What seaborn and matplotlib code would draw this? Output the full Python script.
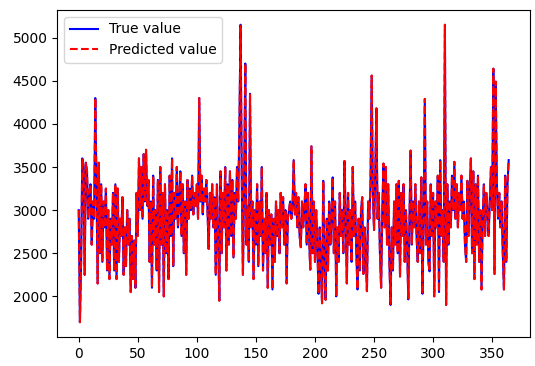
import numpy as np
import matplotlib
matplotlib.use("Agg")
import matplotlib.pyplot as plt
import seaborn as sns

# values (daily series, 365 points)
true_value = [
    3000, 1700, 2400, 3600, 3500, 2250, 3550, 3450, 2900, 3200,
    3300, 2600, 3100, 2900, 4300, 3300, 2150, 3550, 2500, 3300,
    2400, 3100, 2800, 3250, 2300, 3000, 2200, 2900, 2600, 3200,
    2300, 3300, 2200, 3250, 2400, 2900, 2700, 3150, 2250, 2800,
    2350, 3000, 2600, 2900, 2050, 2700, 2200, 2650, 2100, 3200,
    2700, 3600, 3000, 3500, 2900, 3650, 3100, 3700, 3050, 3350,
    2400, 3100, 2100, 3400, 2600, 3000, 2300, 3350, 2050, 3500,
    2600, 3200, 2000, 3300, 2500, 3000, 2200, 3400, 2700, 3600,
    2350, 3200, 2900, 3500, 2800, 3100, 3450, 2700, 3300, 2500,
    3100, 2250, 3350, 2900, 3250, 3000, 3400, 2950, 3200, 3050,
    3300, 2900, 4300, 3100, 3400, 2950, 3250, 3100, 3350, 3000,
    2550, 3200, 2900, 3300, 2800, 3150, 2250, 3300, 2700, 1950,
    3450, 2500, 3200, 2800, 3500, 2300, 3300, 2600, 3450, 2700,
    3350, 2450, 3200, 2900, 3500, 3100, 3950, 5150, 3400, 2250,
    3300, 4700, 2600, 3050, 2400, 4350, 2800, 3100, 2200, 3000,
    2600, 3300, 2350, 3100, 2700, 3500, 2300, 2900, 2500, 3200,
    2100, 3000, 2600, 2950, 2080, 2900, 2400, 3100, 2700, 3000,
    2500, 3200, 2800, 3150, 2600, 3000, 2150, 2900, 3000, 3100,
    2900, 3050, 3580, 2950, 3200, 2800, 3150, 2700, 2570, 3100,
    2800, 3000, 3300, 2600, 3200, 2700, 2310, 3740, 2500, 3100,
    2400, 3000, 2600, 2030, 2800, 2300, 1920, 3340, 2400, 1960,
    2900, 2300, 3100, 2600, 2900, 3380, 2500, 3100, 2000, 2800,
    2400, 3200, 2700, 3000, 2500, 3570, 2900, 2150, 3200, 2600,
    3000, 2400, 3500, 2700, 3100, 2500, 2080, 2900, 2300, 3000,
    3150, 2260, 2800, 2500, 2060, 3100, 2900, 3300, 4560, 3200,
    2770, 3400, 4180, 2900, 3200, 2500, 2100, 3000, 3540, 2800,
    3500, 2600, 3300, 2400, 1900, 2800, 2300, 3100, 2600, 3300,
    2500, 3340, 2230, 3200, 2700, 3300, 2400, 3000, 2600, 1965,
    2900, 3690, 2600, 3100, 2800, 3300, 2700, 2400, 3100, 2500,
    3380, 2030, 2900, 4290, 2600, 3100, 2400, 2290, 3300, 2700,
    3200, 2000, 3100, 2800, 3400, 2050, 3580, 2700, 3000, 2400,
    5150, 1900, 3300, 2600, 3100, 2800, 3400, 3000, 3560, 2900,
    3300, 2800, 3200, 3000, 3400, 2900, 3100, 2600, 2400, 3340,
    2700, 3200, 3600, 2500, 3450, 2200, 3300, 2600, 3400, 2400,
    3000, 2080, 2900, 3300, 2700, 3200, 3000, 2700, 3100, 3500,
    3000, 4640, 2260, 4490, 3300, 2900, 3200, 2800, 3100, 2500,
    2080, 3400, 2400, 3300, 3580,
]
# the model output sits right on top of the true values in the picture
predicted_value = list(true_value)
day = np.arange(len(true_value))

fig, ax = plt.subplots(figsize=(5.35, 3.66), dpi=100)
fig.subplots_adjust(left=0.107, right=0.991, top=0.973, bottom=0.079)

sns.lineplot(x=day, y=true_value, color="blue", linewidth=1.5,
             label="True value", ax=ax)
sns.lineplot(x=day, y=predicted_value, color="red", linewidth=1.5,
             linestyle="--", label="Predicted value", ax=ax)

ax.set_xticks([0, 50, 100, 150, 200, 250, 300, 350])
ax.legend(loc="upper left")

plt.savefig("out.png", dpi=100)
plt.close()
